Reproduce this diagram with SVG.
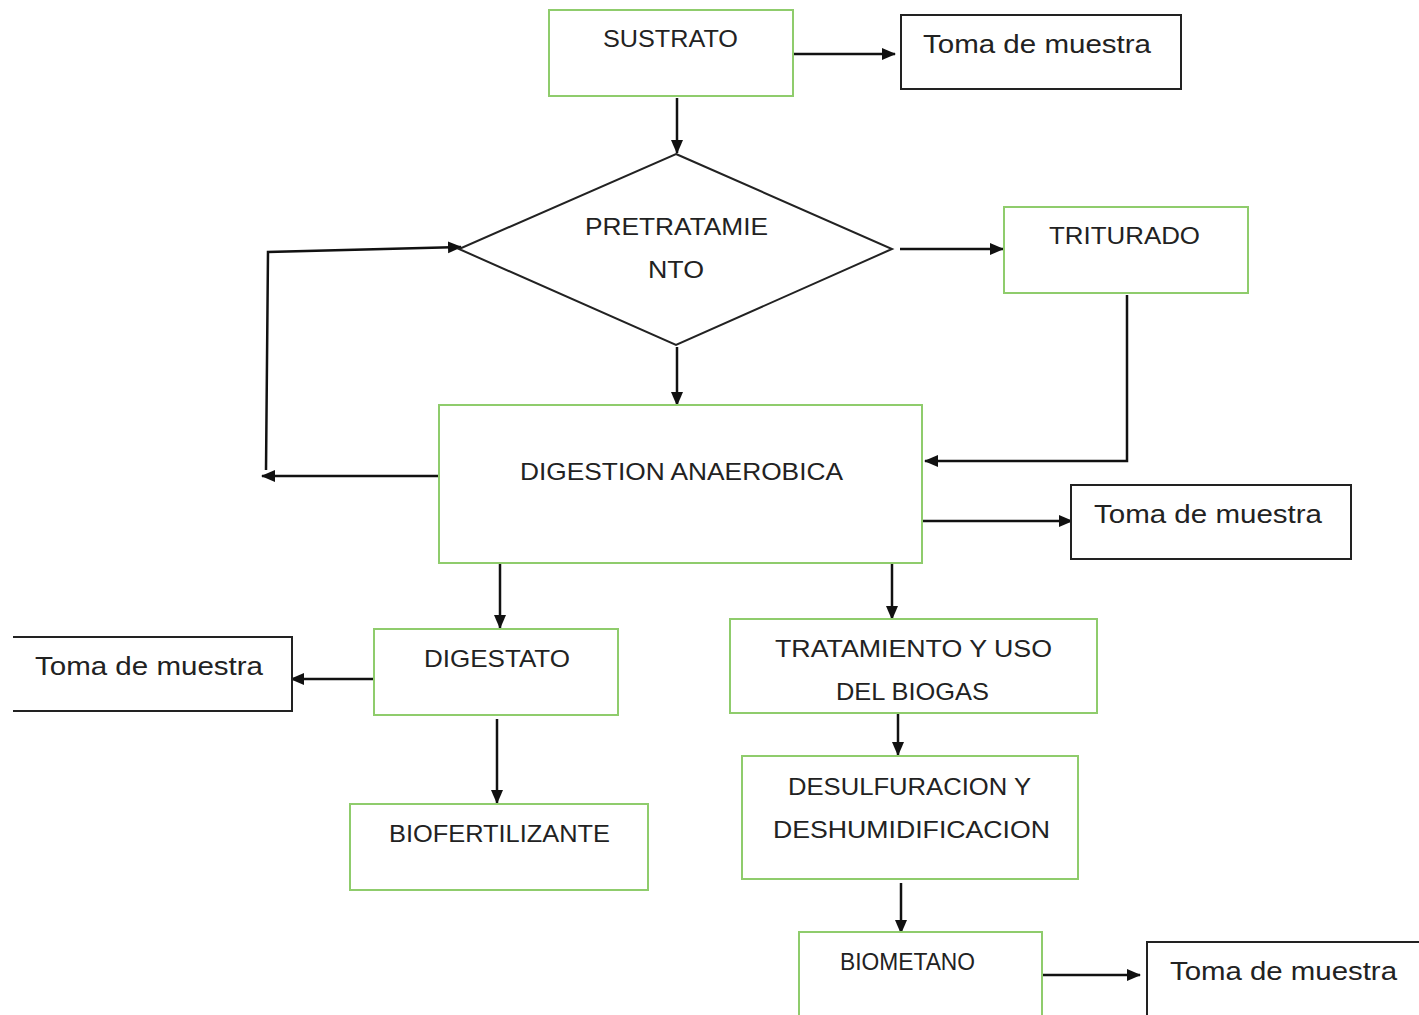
<svg xmlns="http://www.w3.org/2000/svg" width="1419" height="1015" viewBox="0 0 1419 1015">
<style>
.g{fill:#fff;stroke:#8fcc6c;stroke-width:2}
.b{fill:#fff;stroke:#222;stroke-width:2}
.t{font-family:"Liberation Sans",Arial,sans-serif;font-size:24px;fill:#222}
.m{font-family:"Liberation Sans",Arial,sans-serif;font-size:25px;fill:#222}
.c{fill:none;stroke:#111;stroke-width:2.5}
</style>
<defs>
<marker id="ah" markerUnits="userSpaceOnUse" markerWidth="14" markerHeight="14" viewBox="0 0 14 14" refX="13" refY="7" orient="auto">
<path d="M0,1 L14,7 L0,13 Z" fill="#111"/>
</marker>
</defs>
<rect width="1419" height="1015" fill="#fff"/>
<g id="connectors">
<path class="c" d="M793,54 H895" marker-end="url(#ah)"/>
<path class="c" d="M677,98 V153" marker-end="url(#ah)"/>
<path class="c" d="M900,249 H1003" marker-end="url(#ah)"/>
<path class="c" d="M1127,295 V461 H925" marker-end="url(#ah)"/>
<path class="c" d="M441,476 H262" marker-end="url(#ah)"/>
<path class="c" d="M266,470 L268,252 L461,247" marker-end="url(#ah)"/>
<path class="c" d="M677,347 V405" marker-end="url(#ah)"/>
<path class="c" d="M922,521 H1072" marker-end="url(#ah)"/>
<path class="c" d="M500,563 V628" marker-end="url(#ah)"/>
<path class="c" d="M892,563 V619" marker-end="url(#ah)"/>
<path class="c" d="M380,679 H291" marker-end="url(#ah)"/>
<path class="c" d="M497,719 V803" marker-end="url(#ah)"/>
<path class="c" d="M898,711 V755" marker-end="url(#ah)"/>
<path class="c" d="M901,883 V933" marker-end="url(#ah)"/>
<path class="c" d="M1038,975 H1140" marker-end="url(#ah)"/>
</g>
<g id="sustrato">
<rect class="g" x="549" y="10" width="244" height="86"/>
<text class="t" x="603" y="47" textLength="135" lengthAdjust="spacingAndGlyphs">SUSTRATO</text>
</g>
<g id="toma1">
<rect class="b" x="901" y="15" width="280" height="74"/>
<text class="m" x="923" y="53" textLength="228" lengthAdjust="spacingAndGlyphs">Toma de muestra</text>
</g>
<g id="pretratamiento">
<polygon class="b" points="676,154 892,249 676,345 459,249" fill="#fff"/>
<text class="t" x="585" y="235" textLength="183" lengthAdjust="spacingAndGlyphs">PRETRATAMIE</text>
<text class="t" x="648" y="278" textLength="56" lengthAdjust="spacingAndGlyphs">NTO</text>
</g>
<g id="triturado">
<rect class="g" x="1004" y="207" width="244" height="86"/>
<text class="t" x="1049" y="244" textLength="151" lengthAdjust="spacingAndGlyphs">TRITURADO</text>
</g>
<g id="digestion">
<rect class="g" x="439" y="405" width="483" height="158"/>
<text class="t" x="520" y="480" textLength="323" lengthAdjust="spacingAndGlyphs">DIGESTION ANAEROBICA</text>
</g>
<g id="toma2">
<rect class="b" x="1071" y="485" width="280" height="74"/>
<text class="m" x="1094" y="523" textLength="228" lengthAdjust="spacingAndGlyphs">Toma de muestra</text>
</g>
<g id="digestato">
<rect class="g" x="374" y="629" width="244" height="86"/>
<text class="t" x="424" y="667" textLength="146" lengthAdjust="spacingAndGlyphs">DIGESTATO</text>
</g>
<g id="toma3">
<path class="b" d="M13,637 H292 V711 H13"/>
<text class="m" x="35" y="675" textLength="228" lengthAdjust="spacingAndGlyphs">Toma de muestra</text>
</g>
<g id="biofertilizante">
<rect class="g" x="350" y="804" width="298" height="86"/>
<text class="t" x="389" y="842" textLength="221" lengthAdjust="spacingAndGlyphs">BIOFERTILIZANTE</text>
</g>
<g id="tratamiento">
<rect class="g" x="730" y="619" width="367" height="94"/>
<text class="t" x="775" y="657" textLength="277" lengthAdjust="spacingAndGlyphs">TRATAMIENTO Y USO</text>
<text class="t" x="836" y="700" textLength="153" lengthAdjust="spacingAndGlyphs">DEL BIOGAS</text>
</g>
<g id="desulfuracion">
<rect class="g" x="742" y="756" width="336" height="123"/>
<text class="t" x="788" y="795" textLength="243" lengthAdjust="spacingAndGlyphs">DESULFURACION Y</text>
<text class="t" x="773" y="838" textLength="277" lengthAdjust="spacingAndGlyphs">DESHUMIDIFICACION</text>
</g>
<g id="biometano">
<path class="g" d="M799,1016 V932 H1042 V1016"/>
<text class="t" x="840" y="970" textLength="135" lengthAdjust="spacingAndGlyphs">BIOMETANO</text>
</g>
<g id="toma4">
<path class="b" d="M1147,1016 V942 H1419"/>
<text class="m" x="1170" y="980" textLength="227" lengthAdjust="spacingAndGlyphs">Toma de muestra</text>
</g>
</svg>
